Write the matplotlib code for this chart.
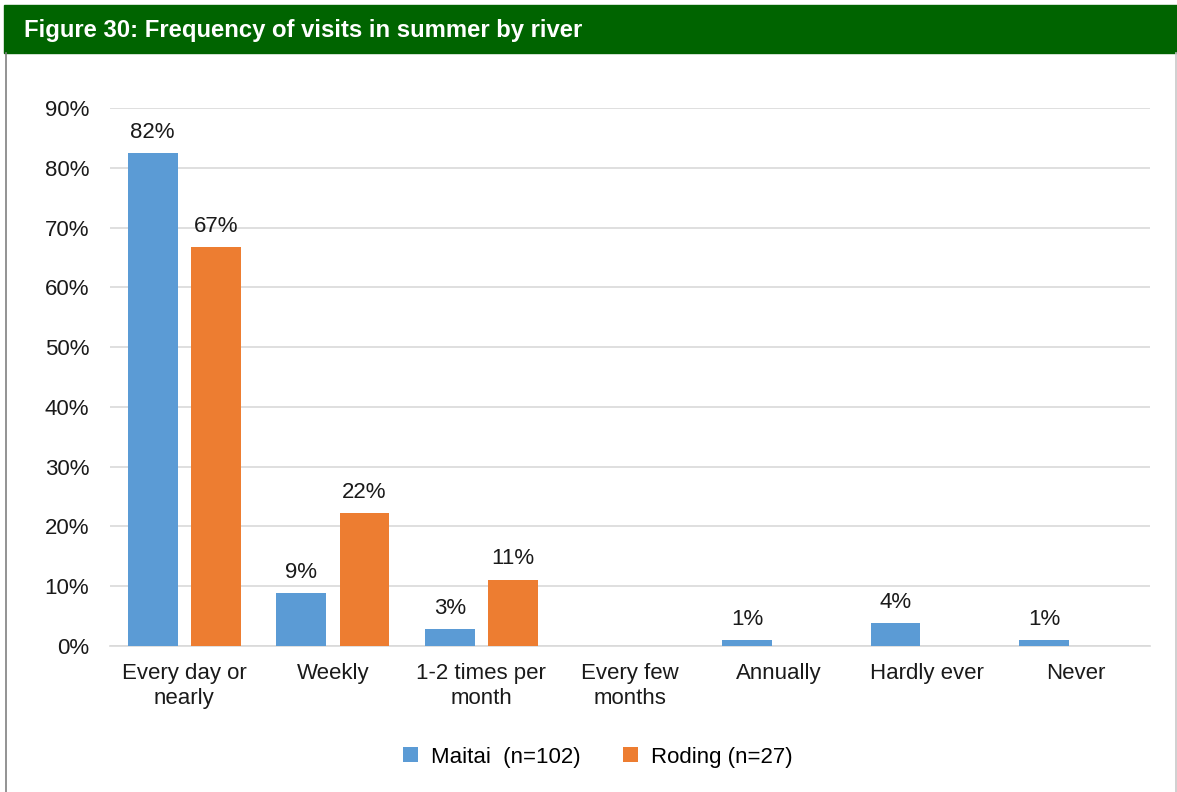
import matplotlib.pyplot as plt
import numpy as np
from matplotlib.patches import Rectangle
from matplotlib.lines import Line2D

plt.rcParams['font.family'] = ['Liberation Sans', 'DejaVu Sans']

categories = ['Every day or\nnearly', 'Weekly', '1-2 times per\nmonth', 'Every few\nmonths',
              'Annually', 'Hardly ever', 'Never']
maitai = [82.4, 8.8, 2.9, 0, 1.0, 3.9, 1.0]
roding = [66.7, 22.2, 11.1, 0, 0, 0, 0]
series_names = ['Maitai  (n=102)', 'Roding (n=27)']
colors = ['#5B9BD5', '#ED7D31']
title = 'Figure 30: Frequency of visits in summer by river'

fig = plt.figure(figsize=(11.77, 7.92), dpi=100)

# green header band and frame
fig.patches.append(Rectangle((4 / 1177, 1 - 53 / 792), 1 - 4 / 1177, 48 / 792,
                             transform=fig.transFigure, color='#006400', zorder=0))
fig.text(24 / 1177, 1 - 30 / 792, title, color='white', fontsize=17.2, fontweight='bold',
         va='center', ha='left')
fig.lines.append(Line2D([6 / 1177, 6 / 1177], [0, 1 - 53 / 792], transform=fig.transFigure,
                        color='#808080', lw=1.2))
fig.lines.append(Line2D([1175.5 / 1177, 1175.5 / 1177], [0, 1 - 53 / 792],
                        transform=fig.transFigure, color='#c8c8c8', lw=1.2))

ax = fig.add_axes([110 / 1177, 1 - 646 / 792, 1040 / 1177, 538 / 792])
x = np.arange(len(categories))
w = 0.335
gap = 0.045
b1 = ax.bar(x - w / 2 - gap, maitai, w, color=colors[0], label=series_names[0], zorder=3)
b2 = ax.bar(x + w / 2 + gap, roding, w, color=colors[1], label=series_names[1], zorder=3)

for bars, vals in ((b1, maitai), (b2, roding)):
    for bar, v in zip(bars, vals):
        if v > 0:
            ax.text(bar.get_x() + bar.get_width() / 2, v + 1.7, f'{v:.0f}%',
                    ha='center', va='bottom', fontsize=16, color='#1a1a1a')

ax.set_xlim(-0.5, len(categories) - 0.5)
ax.set_ylim(0, 90)
ax.set_yticks(np.arange(0, 91, 10))
ax.set_yticklabels([f'{t}%' for t in range(0, 91, 10)])
ax.set_xticks(x)
ax.set_xticklabels(categories, linespacing=1.3)
ax.tick_params(axis='both', length=0, labelsize=16, colors='#1a1a1a')
ax.tick_params(axis='y', pad=15)
ax.tick_params(axis='x', pad=12)
ax.grid(axis='y', color='#D9D9D9', lw=1.2, zorder=0)
for s in ['top', 'right', 'left']:
    ax.spines[s].set_visible(False)
ax.spines['bottom'].set_color('#D9D9D9')
ax.spines['bottom'].set_linewidth(1.2)

fig.legend(loc='center', bbox_to_anchor=(598 / 1177, 1 - 757 / 792), ncol=2, frameon=False,
           fontsize=16, handlelength=0.65, handleheight=0.65, columnspacing=1.9,
           handletextpad=0.6)

fig.savefig('out.png', dpi=100)
